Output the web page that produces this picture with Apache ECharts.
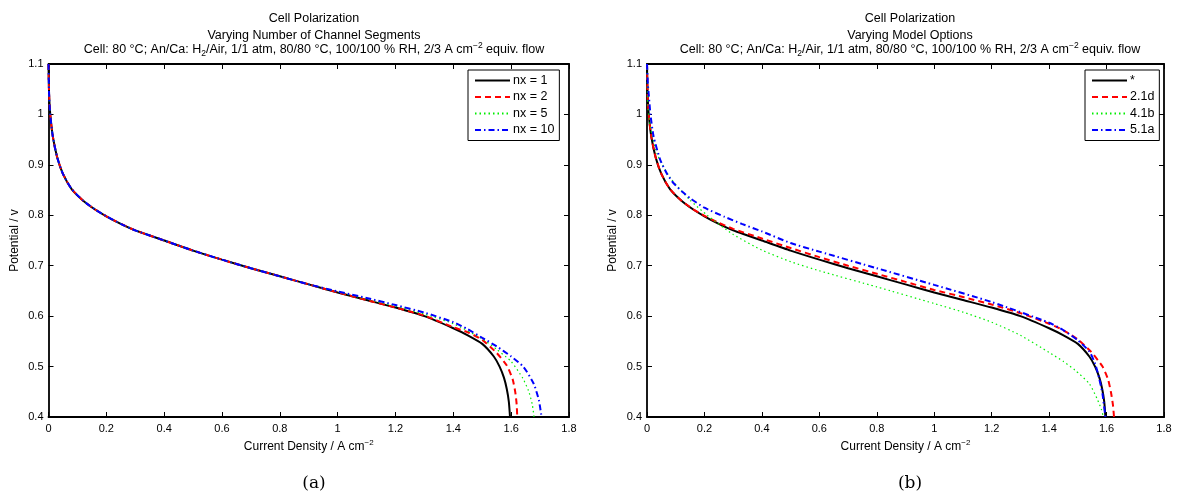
<!DOCTYPE html>
<html><head><meta charset="utf-8">
<script src="https://cdn.jsdelivr.net/npm/echarts@6/dist/echarts.min.js"></script>
<style>html,body{margin:0;padding:0;background:#fff}#c{width:1178px;height:495px}</style>
</head><body><div id="c"></div>
<script>
// ---- tick labels ----
const xTickLabels = ['0','0.2','0.4','0.6','0.8','1','1.2','1.4','1.6','1.8'];
const yTickLabels = ['0.4','0.5','0.6','0.7','0.8','0.9','1','1.1'];

// ---- base curve (nx = 1 and "*") ----
const baseX = [0,0.002,0.006,0.015,0.03,0.05,0.08,0.12,0.16,0.2,0.25,0.3,0.35,0.4,0.5,0.6,0.7,0.8,0.9,1.0,1.1,1.2,1.3,1.4,1.45,1.5,1.54,1.56,1.575,1.585,1.592,1.596];
const baseY = [1.1,1.04,1.0,0.956,0.915,0.882,0.852,0.829,0.812,0.798,0.783,0.770,0.760,0.750,0.730,0.712,0.695,0.679,0.663,0.647,0.632,0.617,0.600,0.576,0.562,0.545,0.520,0.500,0.478,0.455,0.43,0.4];

// ---- panel (a) ----
const nx2X = [0,0.002,0.006,0.015,0.03,0.05,0.08,0.12,0.16,0.2,0.25,0.3,0.35,0.4,0.5,0.6,0.7,0.8,0.9,1.0,1.1,1.2,1.3,1.4,1.45,1.5,1.55,1.585,1.605,1.614,1.619,1.621];
const nx2Y = [1.1,1.04,1.0,0.956,0.915,0.882,0.852,0.829,0.812,0.798,0.783,0.770,0.760,0.750,0.730,0.712,0.695,0.679,0.663,0.647,0.632,0.617,0.601,0.578,0.568,0.553,0.527,0.502,0.475,0.45,0.425,0.4];
const nx5X = [0,0.002,0.006,0.015,0.03,0.05,0.08,0.12,0.16,0.2,0.25,0.3,0.35,0.4,0.5,0.6,0.7,0.8,0.9,1.0,1.1,1.2,1.3,1.4,1.5,1.55,1.6,1.64,1.66,1.673,1.679];
const nx5Y = [1.1,1.04,1.0,0.956,0.915,0.882,0.852,0.829,0.812,0.798,0.783,0.770,0.760,0.750,0.730,0.712,0.695,0.679,0.663,0.648,0.634,0.620,0.604,0.585,0.555,0.534,0.510,0.477,0.452,0.425,0.4];
const nx10X = [0,0.002,0.006,0.015,0.03,0.05,0.08,0.12,0.16,0.2,0.25,0.3,0.35,0.4,0.5,0.6,0.7,0.8,0.9,1.0,1.1,1.2,1.3,1.4,1.45,1.5,1.55,1.6,1.643,1.678,1.696,1.705];
const nx10Y = [1.1,1.04,1.0,0.956,0.915,0.882,0.852,0.829,0.812,0.798,0.783,0.770,0.760,0.750,0.730,0.712,0.695,0.679,0.663,0.649,0.636,0.622,0.607,0.588,0.574,0.557,0.540,0.520,0.499,0.466,0.433,0.4];

// ---- panel (b) ----
const d21X = [0,0.002,0.006,0.015,0.03,0.05,0.08,0.12,0.16,0.2,0.25,0.3,0.4,0.5,0.6,0.7,0.8,0.9,1.0,1.1,1.2,1.3,1.4,1.45,1.5,1.545,1.586,1.605,1.615,1.622,1.626];
const d21Y = [1.1,1.04,1.0,0.956,0.915,0.882,0.852,0.829,0.812,0.799,0.785,0.773,0.754,0.735,0.717,0.700,0.684,0.668,0.652,0.638,0.623,0.606,0.585,0.572,0.554,0.530,0.500,0.475,0.45,0.425,0.4];
const b41X = [0,0.003,0.012,0.035,0.08,0.15,0.21,0.3,0.4,0.5,0.6,0.8,1.0,1.1,1.2,1.3,1.4,1.45,1.49,1.54,1.568,1.582,1.589];
const b41Y = [1.1,1.02,0.975,0.922,0.875,0.830,0.800,0.762,0.731,0.708,0.690,0.658,0.625,0.608,0.588,0.562,0.528,0.510,0.493,0.466,0.435,0.415,0.4];
const a51X = [0,0.003,0.006,0.012,0.023,0.046,0.07,0.092,0.12,0.15,0.2,0.27,0.33,0.4,0.5,0.6,0.8,1.0,1.2,1.4,1.45,1.5,1.54,1.56,1.575,1.586,1.596];
const a51Y = [1.1,1.06,1.04,1.0,0.956,0.91,0.882,0.864,0.848,0.834,0.815,0.797,0.783,0.768,0.745,0.728,0.695,0.662,0.628,0.587,0.572,0.552,0.530,0.506,0.475,0.445,0.4];

const FONT = 'Liberation Sans, Arial, Helvetica, sans-serif';
const zip = (xs, ys) => xs.map((x, i) => [x, ys[i]]);
const fmtX = v => { const s = (+v.toFixed(1)).toString(); return xTickLabels.includes(s) ? s : ''; };
const fmtY = v => { const s = (+v.toFixed(1)).toString(); return yTickLabels.includes(s) ? s : ''; };

const grids = [
  {left: 48.5, top: 64, width: 520.5, height: 353},
  {left: 647, top: 64, width: 517, height: 353}
];

function xAx(gi, pos) {
  const main = pos === 'bottom';
  return {
    type: 'value', gridIndex: gi, position: pos, min: 0, max: 1.8, interval: 0.2,
    axisLine: {show: true, onZero: false, lineStyle: {color: '#000', width: 1.8}},
    axisTick: {show: true, inside: true, length: 5, lineStyle: {color: '#000', width: 1}},
    axisLabel: {show: main, formatter: fmtX, color: '#000', fontSize: 11, fontFamily: FONT, margin: 6},
    splitLine: {show: false},
    name: main ? 'Current Density / A cm{sup|\u22122}' : '',
    nameLocation: 'middle', nameGap: 22,
    nameTextStyle: {color: '#000', fontSize: 12, fontFamily: FONT,
      rich: {sup: {fontSize: 8, fontFamily: FONT, color: '#000', padding: [0, 0, 7, 0]}}}
  };
}
function yAx(gi, pos) {
  const main = pos === 'left';
  return {
    type: 'value', gridIndex: gi, position: pos, min: 0.4, max: 1.1, interval: 0.1,
    axisLine: {show: true, onZero: false, lineStyle: {color: '#000', width: 1.8}},
    axisTick: {show: true, inside: true, length: 5, lineStyle: {color: '#000', width: 1}},
    axisLabel: {show: main, formatter: fmtY, color: '#000', fontSize: 11, fontFamily: FONT, margin: 5},
    splitLine: {show: false},
    name: main ? 'Potential / v' : '',
    nameLocation: 'middle', nameGap: 28, nameRotate: 90,
    nameTextStyle: {color: '#000', fontSize: 12, fontFamily: FONT}
  };
}

function ser(name, xs, ys, gi, color, type, width) {
  return {
    name, type: 'line', xAxisIndex: gi * 2, yAxisIndex: gi * 2,
    data: zip(xs, ys), symbol: 'none', showSymbol: false,
    smooth: 0.2, clip: true,
    lineStyle: {color, width, type},
    itemStyle: {color, opacity: 0},
    emphasis: {disabled: true}
  };
}

const richTitle = {
  sub: {fontSize: 8.5, fontFamily: FONT, color: '#000', padding: [8, 0, 0, 0]},
  sup: {fontSize: 8.5, fontFamily: FONT, color: '#000', padding: [0, 0, 8, 0]}
};
function titles(cx, line2) {
  const ts = {color: '#000', fontSize: 12.5, fontWeight: 'normal', fontFamily: FONT, rich: richTitle};
  return [
    {text: 'Cell Polarization', left: cx, top: 7, textAlign: 'center', textStyle: ts},
    {text: line2, left: cx, top: 24, textAlign: 'center', textStyle: ts},
    {text: 'Cell: 80 \u00B0C; An/Ca: H{sub|2}/Air, 1/1 atm, 80/80 \u00B0C, 100/100 % RH, 2/3 A cm{sup|\u22122} equiv. flow',
      left: cx, top: 36, textAlign: 'center', textStyle: ts}
  ];
}

function legend(left, names) {
  return {
    data: names, orient: 'vertical', left, top: 70,
    backgroundColor: '#fff', borderColor: '#000', borderWidth: 1, borderRadius: 0,
    padding: [4, 5, 4, 6], itemGap: 3.5, itemWidth: 35, itemHeight: 12.5,
    selectedMode: false,
    itemStyle: {opacity: 0},
    textStyle: {color: '#000', fontSize: 12.5, fontFamily: FONT, padding: [0, 0, 0, -2]}
  };
}

const option = {
  animation: false,
  backgroundColor: '#fff',
  title: [
    ...titles(309, 'Varying Number of Channel Segments'),
    ...titles(905, 'Varying Model Options'),
    {text: '(a)', left: 309, top: 470, textAlign: 'center', textStyle: {color: '#000', fontSize: 17, fontWeight: 'normal', fontFamily: 'DejaVu Serif, Liberation Serif, serif'}},
    {text: '(b)', left: 905, top: 470, textAlign: 'center', textStyle: {color: '#000', fontSize: 17, fontWeight: 'normal', fontFamily: 'DejaVu Serif, Liberation Serif, serif'}}
  ],
  legend: [
    legend(468, ['nx = 1', 'nx = 2', 'nx = 5', 'nx = 10']),
    legend(1085, ['*', '2.1d', '4.1b', '5.1a'])
  ],
  grid: grids,
  xAxis: [xAx(0, 'bottom'), xAx(0, 'top'), xAx(1, 'bottom'), xAx(1, 'top')],
  yAxis: [yAx(0, 'left'), yAx(0, 'right'), yAx(1, 'left'), yAx(1, 'right')],
  series: [
    ser('nx = 1', baseX, baseY, 0, '#000000', 'solid', 2),
    ser('nx = 2', nx2X, nx2Y, 0, '#ff0000', [6, 4], 2),
    ser('nx = 5', nx5X, nx5Y, 0, '#00ee00', [1.5, 3], 1.2),
    ser('nx = 10', nx10X, nx10Y, 0, '#0000ff', [6, 3, 1.5, 3], 2),
    ser('*', baseX, baseY, 1, '#000000', 'solid', 2),
    ser('2.1d', d21X, d21Y, 1, '#ff0000', [6, 4], 2),
    ser('4.1b', b41X, b41Y, 1, '#00ee00', [1.5, 3], 1.2),
    ser('5.1a', a51X, a51Y, 1, '#0000ff', [6, 3, 1.5, 3], 2)
  ]
};
const chart = echarts.init(document.getElementById('c'), null, {renderer: 'canvas'});
chart.setOption(option);
</script>
</body></html>
